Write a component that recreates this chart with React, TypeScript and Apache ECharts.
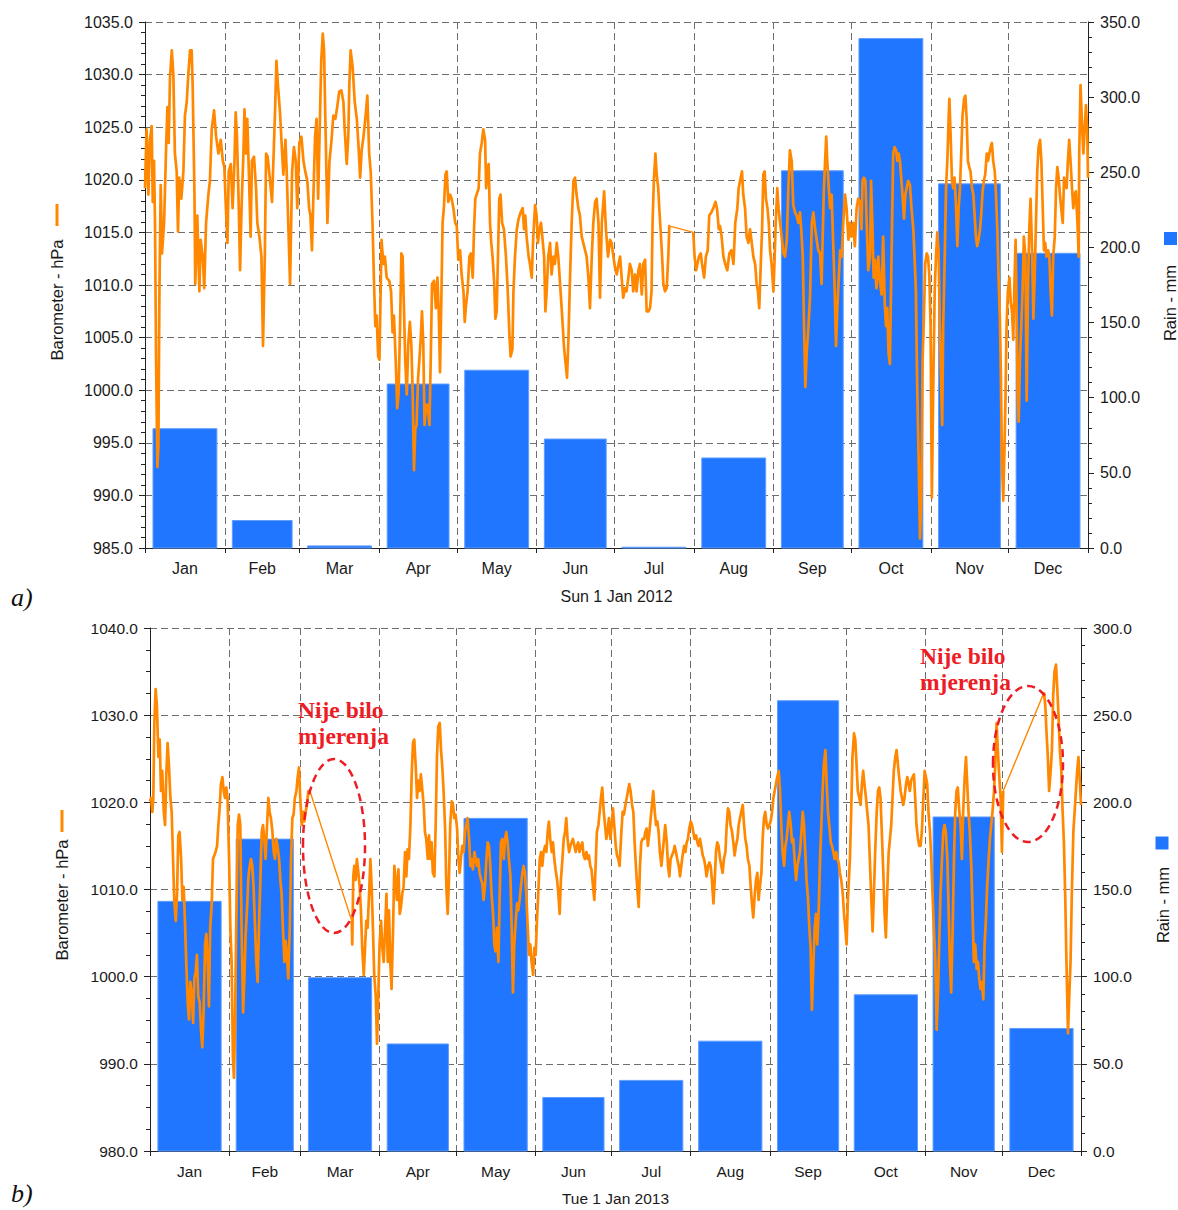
import React, { useEffect, useRef } from 'react';
import * as echarts from 'echarts';

const MONTHS = ['Jan', 'Feb', 'Mar', 'Apr', 'May', 'Jun', 'Jul', 'Aug', 'Sep', 'Oct', 'Nov', 'Dec'];
const DAYS_2012 = [31, 29, 31, 30, 31, 30, 31, 31, 30, 31, 30, 31];
const DAYS_2013 = [31, 28, 31, 30, 31, 30, 31, 31, 30, 31, 30, 31];

// Monthly rain (mm)
const RAIN_2012 = [79.4, 18.3, 1.4, 109.1, 118.3, 72.5, 0.5, 59.9, 251, 339, 242.3, 196.1];
const RAIN_2013 = [143.2, 178.9, 99.4, 61.4, 190.8, 30.7, 40.5, 63, 258.3, 89.6, 191.6, 70.3];

// Barometer (hPa) as [day of year, value]
const BARO_2012: number[][] = [
[0,1019.2],[0.6,1024.8],[1.3,1018.6],[1.9,1023.8],[2.6,1025.1],[3.0,1017.9],[3.5,1021.8],[3.9,1015.6],[4.3,1002.9],[4.8,992.7],[5.2,994.7],[5.6,1009.4],[6.1,1019.5],[6.6,1013.0],[7.4,1015.9],[8.2,1023.1],[8.7,1026.9],[9.2,1023.5],[9.7,1029.7],[10.4,1032.3],[11.0,1030.0],[11.6,1022.5],[12.3,1020.8],[12.8,1015.1],[13.3,1020.2],[14.1,1018.2],[14.9,1020.8],[15.5,1026.1],[16.2,1027.4],[16.8,1030.0],[17.5,1032.3],[18.1,1032.3],[18.5,1029.0],[19.2,1018.6],[19.5,1010.1],[20.3,1016.6],[21.1,1009.4],[21.6,1014.3],[22.4,1012.7],[23.0,1009.7],[23.7,1015.9],[24.6,1018.6],[25.2,1019.9],[25.9,1024.8],[26.8,1026.6],[27.6,1024.1],[28.5,1022.5],[29.4,1023.8],[30.2,1021.8],[30.8,1021.2],
[31.4,1017.3],[32.0,1014.0],[32.5,1020.8],[33.3,1021.5],[34.0,1017.3],[34.7,1021.5],[35.2,1026.4],[35.7,1024.1],[36.4,1017.3],[36.9,1011.4],[37.5,1017.6],[38.2,1022.5],[38.6,1026.7],[39.2,1022.5],[39.7,1025.8],[40.4,1019.9],[41.0,1014.6],[41.5,1021.8],[42.3,1022.2],[43.1,1019.2],[43.6,1015.9],[44.4,1014.6],[45.2,1012.7],[45.8,1004.2],[46.5,1012.7],[47.0,1022.5],[47.6,1022.2],[48.3,1020.5],[48.8,1019.2],[49.3,1017.9],[49.8,1021.5],[50.5,1026.7],[51.0,1031.3],[51.6,1029.0],[52.4,1026.4],[53.1,1023.1],[53.7,1020.5],[54.5,1023.8],[55.0,1020.8],[55.6,1015.9],[56.3,1010.1],[57.1,1020.8],[57.8,1023.1],[58.5,1021.8],[59.1,1017.3],[59.9,1023.5],
[60.7,1024.1],[61.5,1021.8],[62.2,1020.8],[63.0,1019.9],[63.7,1017.3],[64.2,1016.6],[64.8,1013.3],[65.3,1017.9],[66.0,1024.1],[66.6,1025.8],[67.2,1018.2],[67.9,1025.8],[68.4,1031.3],[69.0,1033.9],[69.5,1032.3],[70.0,1025.8],[70.8,1015.9],[71.6,1021.8],[72.3,1023.5],[73.1,1026.1],[73.9,1025.8],[74.7,1027.1],[75.4,1028.4],[76.2,1028.5],[77.0,1027.4],[77.5,1024.8],[78.3,1021.5],[78.9,1024.1],[79.3,1029.0],[79.8,1032.3],[80.6,1030.7],[81.4,1027.4],[82.2,1025.8],[82.9,1023.1],[83.5,1020.2],[84.1,1022.8],[84.8,1024.1],[85.5,1025.8],[86.3,1028.0],[87.0,1022.5],[87.6,1020.8],[88.3,1015.9],[88.9,1010.1],[89.4,1006.1],[89.9,1007.1],[90.5,1003.2],[91.0,1002.9],
[91.8,1014.3],[92.5,1012.0],[93.1,1012.7],[93.8,1010.7],[94.8,1010.4],[95.5,1009.4],[96.1,1005.5],[96.6,1007.1],[97.3,1002.9],[97.9,998.3],[98.4,999.6],[99.0,1006.1],[99.5,1013.0],[100.0,1012.7],[100.5,1007.8],[101.0,1002.9],[101.6,999.6],[102.2,1004.5],[102.8,1006.5],[103.4,1004.2],[103.9,999.6],[104.4,992.4],[104.9,996.3],[105.4,996.7],[106.0,1001.2],[106.5,1002.9],[107.0,1004.8],[107.5,1007.5],[108.0,1004.5],[108.5,996.7],[109.1,998.6],[109.7,998.6],[110.4,996.7],[110.9,1002.9],[111.4,1010.1],[112.2,1010.4],[112.9,1007.8],[113.5,1010.7],[114.0,1007.5],[114.5,1001.7],[115.0,1008.4],[115.5,1015.9],[116.0,1017.3],[116.6,1020.5],[117.1,1020.8],[117.7,1017.9],[118.4,1018.6],[119.0,1018.2],[119.7,1017.3],[120.4,1015.9],[121.0,1015.6],
[121.6,1012.4],[122.3,1013.3],[122.9,1011.0],[123.6,1009.4],[124.1,1006.5],[124.6,1008.1],[125.2,1009.4],[125.9,1012.7],[126.5,1013.0],[127.2,1010.7],[127.7,1015.3],[128.2,1018.2],[128.7,1018.6],[129.5,1019.2],[130.0,1022.5],[130.7,1023.5],[131.3,1024.8],[132.0,1023.8],[132.4,1019.2],[132.9,1020.8],[133.4,1021.5],[133.9,1015.9],[134.4,1014.0],[134.9,1012.7],[135.5,1010.4],[136.0,1006.8],[136.5,1007.5],[137.0,1012.7],[137.5,1018.2],[138.0,1018.6],[138.6,1015.9],[139.3,1015.3],[140.1,1012.7],[140.8,1009.4],[141.4,1005.5],[141.9,1003.2],[142.6,1003.9],[143.0,1009.4],[143.6,1012.7],[144.3,1015.3],[145.0,1016.3],[145.8,1016.9],[146.6,1017.3],[147.1,1015.3],[147.6,1016.6],[148.1,1014.6],[148.9,1012.7],[149.4,1012.0],[150.1,1010.7],[150.7,1014.6],[151.4,1017.6],[152.0,1016.6],
[152.5,1014.0],[153.1,1015.3],[153.7,1015.9],[154.2,1014.6],[154.9,1012.7],[155.4,1007.5],[155.9,1009.4],[156.5,1012.7],[157.2,1014.0],[157.8,1011.0],[158.5,1012.7],[159.1,1012.0],[159.8,1014.0],[160.4,1012.7],[161.1,1010.1],[161.9,1007.1],[162.6,1004.2],[163.1,1002.9],[163.8,1001.2],[164.3,1004.5],[165.0,1011.0],[165.6,1015.9],[166.3,1019.9],[166.9,1020.2],[167.5,1018.6],[168.2,1017.3],[168.8,1016.6],[169.5,1014.6],[170.1,1014.0],[170.8,1013.3],[171.4,1012.7],[172.1,1010.7],[172.7,1007.8],[173.4,1012.7],[174.0,1015.9],[174.7,1017.9],[175.3,1018.2],[176.0,1015.9],[176.6,1008.8],[177.3,1015.9],[178.2,1018.9],[178.9,1015.3],[179.7,1012.7],[180.5,1014.3],[181.1,1014.0],[181.8,1012.7],[182.4,1011.7],[183.1,1011.0],[183.8,1012.0],
[184.4,1012.7],[185.0,1010.7],[185.6,1008.8],[186.3,1009.7],[186.9,1009.4],[187.6,1010.7],[188.2,1012.0],[188.9,1011.4],[189.5,1009.4],[190.2,1011.0],[190.8,1009.4],[191.5,1011.4],[192.1,1012.0],[192.8,1009.1],[193.4,1012.0],[194.1,1012.4],[194.7,1007.5],[195.4,1007.5],[196.0,1007.8],[196.6,1009.4],[197.0,1015.9],[197.5,1019.9],[198.1,1022.5],[198.6,1020.5],[199.2,1019.2],[199.6,1017.3],[200.1,1015.3],[200.7,1012.7],[201.2,1010.1],[201.8,1009.4],[202.5,1009.7],[203.1,1012.7],[203.5,1015.6],[203.8,1015.6],[212.8,1015.0],[213.3,1012.7],[213.9,1011.4],[214.4,1012.0],[215.0,1012.7],[215.7,1013.0],[216.2,1012.0],[217.0,1010.7],[217.7,1012.7],[218.4,1013.3],[219.0,1016.6],[219.8,1016.9],[220.6,1017.3],[221.4,1017.9],[222.0,1017.3],[222.7,1015.3],[223.2,1015.6],[223.8,1014.6],[224.5,1012.7],[225.2,1012.0],[226.0,1011.4],[226.8,1013.0],[227.6,1013.3],[228.4,1012.0],[229.1,1015.9],[229.9,1017.3],[230.4,1019.2],[231.2,1020.2],[231.7,1020.8],[232.2,1018.6],[232.9,1017.3],[233.5,1014.6],[234.2,1014.0],[234.8,1015.3],[235.5,1014.0],[236.1,1012.7],[236.8,1012.0],[237.4,1010.1],[237.9,1009.4],[238.4,1007.8],[239.0,1012.0],[239.5,1015.3],[240.0,1020.5],[240.5,1020.8],[241.0,1018.2],[241.6,1017.3],[242.1,1015.9],[242.6,1013.3],[243.2,1012.0],[243.9,1009.4],
[244.3,1012.0],[244.8,1015.9],[245.4,1019.2],[245.9,1017.3],[246.5,1015.9],[247.1,1014.6],[247.8,1013.0],[248.4,1012.7],[249.1,1014.3],[249.7,1019.2],[250.3,1022.8],[251.0,1021.8],[251.6,1017.6],[252.3,1016.9],[252.9,1016.6],[253.6,1015.9],[254.2,1016.9],[254.7,1015.3],[255.3,1012.7],[255.8,1006.1],[256.3,1000.3],[256.8,1003.5],[257.5,1006.1],[258.1,1008.8],[258.8,1015.9],[259.4,1016.9],[260.1,1015.3],[260.7,1014.3],[261.3,1013.3],[262.0,1013.0],[262.6,1010.1],[263.0,1014.3],[263.5,1019.2],[264.1,1022.5],[264.4,1024.1],[264.8,1021.8],[265.4,1019.2],[265.9,1017.3],[266.5,1018.6],[267.2,1013.3],[267.7,1009.4],[268.2,1004.2],[268.7,1007.8],[269.2,1010.4],[269.8,1013.3],[270.4,1012.7],[271.0,1015.9],[271.7,1018.6],[272.3,1017.3],[273.0,1014.3],[273.6,1015.9],
[274.2,1014.6],[274.9,1015.9],[275.5,1013.7],[276.2,1017.3],[276.8,1018.2],[277.5,1017.9],[278.1,1015.3],[278.5,1019.9],[279.0,1020.2],[279.6,1019.9],[280.1,1015.9],[280.7,1011.4],[281.4,1012.7],[281.8,1019.9],[282.3,1015.9],[282.8,1010.7],[283.3,1012.4],[283.9,1009.7],[284.6,1012.7],[285.2,1010.4],[285.9,1009.1],[286.5,1014.6],[287.1,1008.4],[287.6,1006.1],[288.1,1007.8],[288.6,1003.5],[289.1,1002.5],[289.6,1010.4],[290.0,1016.6],[290.4,1022.5],[290.9,1023.1],[291.5,1022.8],[292.0,1021.8],[292.5,1022.5],[293.0,1021.8],[293.5,1020.2],[294.0,1018.6],[294.6,1016.3],[295.1,1018.6],[295.6,1019.2],[296.2,1019.9],[296.9,1019.5],[297.5,1017.3],[298.2,1015.3],[298.8,1012.0],[299.2,1009.4],[299.7,1000.6],[300.3,993.1],[300.8,985.9],[301.3,989.8],[301.8,1002.9],[302.3,1006.8],[302.8,1012.0],[303.4,1013.0],[303.9,1012.7],[304.4,1011.0],[304.9,1006.1],
[305.4,989.8],[305.9,999.6],[306.5,1009.4],[307.0,1012.7],[307.5,1015.0],[308.0,1013.3],[308.5,1006.1],[309.1,999.6],[309.4,996.7],[309.8,1006.1],[310.4,1012.7],[310.9,1019.2],[311.4,1021.8],[311.9,1025.8],[312.2,1027.7],[312.7,1024.1],[313.2,1019.9],[313.7,1019.2],[314.2,1020.2],[314.7,1017.9],[315.3,1013.7],[315.8,1017.3],[316.3,1019.2],[316.8,1022.5],[317.3,1026.1],[317.9,1027.7],[318.4,1028.0],[318.9,1025.8],[319.4,1021.8],[319.9,1021.2],[320.4,1020.8],[321.0,1019.2],[321.5,1018.6],[322.0,1016.6],[322.5,1014.6],[323.0,1013.7],[323.5,1014.3],[324.1,1015.3],[324.6,1016.9],[325.1,1018.9],[325.6,1019.9],[326.1,1020.5],[326.7,1022.5],[327.2,1021.8],[327.7,1022.5],[328.2,1023.1],[328.7,1023.5],[329.2,1021.8],[329.8,1020.8],[330.3,1018.6],[330.8,1015.3],[331.3,1010.7],[331.8,1006.8],[332.2,1001.2],[332.6,993.1],[333.1,989.5],[333.6,994.7],[334.0,999.6],[334.4,1006.1],[334.9,1009.4],
[335.5,1010.7],[336.0,1008.4],[336.5,1007.5],[337.0,1004.8],[337.5,1010.7],[337.9,1014.3],[338.3,1008.1],[338.7,999.6],[339.1,997.0],[339.6,1002.9],[340.1,1006.1],[340.6,1009.4],[341.1,1014.6],[341.7,1012.7],[342.2,999.0],[342.7,1009.4],[343.2,1015.3],[343.7,1018.2],[344.3,1013.3],[344.8,1006.8],[345.3,1010.7],[345.8,1015.9],[346.3,1020.8],[346.8,1023.1],[347.4,1023.8],[347.9,1021.8],[348.4,1017.6],[348.9,1013.3],[349.4,1014.0],[349.9,1012.7],[350.5,1013.3],[351.0,1012.7],[351.5,1009.4],[352.0,1007.1],[352.5,1012.7],[353.1,1014.6],[353.6,1019.2],[354.1,1021.2],[354.6,1020.2],[355.1,1018.6],[355.6,1017.3],[356.2,1015.9],[356.7,1020.2],[357.2,1019.9],[357.7,1019.2],[358.2,1021.8],[358.7,1023.8],[359.3,1021.5],[359.8,1019.2],[360.3,1017.3],[360.8,1018.6],[361.3,1018.9],[361.9,1015.9],[362.4,1012.7],[362.6,1022.5],[363.1,1029.0],[363.7,1025.1],[364.2,1022.5],[364.7,1024.8],[365.2,1027.1],[365.7,1024.8],[366,1020.2]
];

const BARO_2013: number[][] = [
[0,1020.1],[0.4,1020.5],[0.9,1018.9],[1.3,1020.5],[1.7,1029.1],[2.2,1033.0],[2.7,1031.1],[3.3,1025.2],[3.8,1027.2],[4.3,1021.3],[4.8,1023.6],[5.4,1018.9],[5.9,1017.4],[6.4,1023.2],[6.9,1026.8],[7.4,1024.4],[8.0,1020.5],[8.5,1018.9],[9.0,1013.9],[9.5,1008.8],[10.1,1006.4],[10.6,1009.5],[11.1,1016.2],[11.6,1016.6],[12.2,1013.5],[12.7,1008.8],[13.2,1010.3],[13.7,1006.4],[14.2,1001.7],[14.8,997.0],[15.3,995.1],[15.8,999.4],[16.3,998.2],[16.9,994.7],[17.4,999.8],[17.9,1000.5],[18.4,1002.5],[18.9,997.8],[19.5,997.0],[20.0,993.9],[20.5,991.9],[21.0,995.9],[21.6,1003.7],[22.1,1004.9],[22.6,1001.7],[23.1,996.6],[23.6,1005.6],[24.2,1008.4],[24.7,1013.5],[25.2,1013.9],[25.7,1014.3],[26.3,1015.0],[26.8,1017.4],[27.3,1019.3],[27.8,1022.1],[28.4,1022.9],[28.9,1021.3],[29.4,1020.5],[29.9,1021.7],[30.4,1020.5],
[31.0,1013.5],[31.5,1005.6],[32.0,1001.7],[32.5,990.8],[32.9,988.4],[33.3,993.9],[33.8,1005.6],[34.4,1017.4],[34.9,1018.6],[35.4,1017.4],[35.9,1005.6],[36.5,995.9],[37.0,999.8],[37.5,1004.9],[38.0,1007.6],[38.6,1011.5],[39.1,1012.7],[39.6,1013.5],[40.1,1012.7],[40.6,1010.3],[41.2,1005.6],[41.7,1001.7],[42.2,999.4],[42.7,1005.6],[43.3,1011.5],[43.8,1016.6],[44.3,1017.4],[44.8,1015.8],[45.3,1013.5],[45.9,1017.4],[46.4,1020.5],[46.9,1018.9],[47.4,1018.2],[48.0,1016.6],[48.5,1014.3],[49.0,1013.5],[49.5,1015.8],[50.0,1015.0],[50.6,1013.5],[51.1,1011.1],[51.6,1009.5],[52.1,1005.6],[52.7,1001.7],[53.2,1004.1],[53.7,1002.5],[54.2,999.8],[54.8,1005.6],[55.3,1013.5],[55.8,1018.2],[56.3,1018.6],[56.8,1020.5],[57.4,1021.3],[57.9,1022.9],[58.4,1024.0],[58.9,1020.5],[59.5,1017.4],[60.0,1018.9],[60.5,1017.8],[61.0,1018.9],[61.5,1019.7],[62.1,1021.3],[62.7,1021.3],
[79.1,1006.4],[79.3,1003.7],[79.7,1011.5],[80.1,1012.7],[80.6,1011.1],[81.1,1013.5],[81.7,1011.9],[82.2,1010.3],[82.7,1007.6],[83.2,1003.3],[83.8,1000.2],[84.3,1003.3],[84.8,1006.4],[85.3,1005.6],[85.9,1009.5],[86.4,1013.5],[86.9,1010.3],[87.4,1005.6],[87.9,1000.2],[88.5,997.8],[89.0,992.3],[89.5,997.8],[90.0,1003.7],[90.6,1006.4],[91.1,1003.3],[91.6,1001.7],
[92.1,1004.9],[92.7,1009.5],[93.2,1001.7],[93.7,1007.6],[94.2,1001.7],[94.7,998.6],[95.3,1005.6],[95.8,1012.7],[96.3,1011.1],[96.8,1008.8],[97.4,1012.3],[97.9,1007.2],[98.4,1008.0],[98.9,1009.5],[99.4,1010.3],[100.0,1014.3],[100.5,1011.5],[101.0,1014.6],[101.5,1013.5],[102.1,1017.4],[102.6,1023.2],[103.1,1026.8],[103.6,1027.2],[104.2,1024.0],[104.7,1020.5],[105.2,1022.5],[105.7,1021.3],[106.2,1023.2],[106.8,1021.3],[107.3,1019.7],[107.8,1016.6],[108.3,1015.8],[108.9,1013.5],[109.4,1016.2],[109.9,1013.5],[110.4,1015.4],[110.9,1011.9],[111.5,1011.5],[112.0,1017.4],[112.5,1025.2],[113.0,1028.7],[113.6,1029.1],[114.1,1026.0],[114.6,1024.0],[115.1,1021.3],[115.7,1017.0],[116.2,1010.3],[116.7,1007.2],[117.2,1011.1],[117.7,1017.4],[118.3,1020.1],[118.8,1019.7],[119.3,1018.2],[119.8,1018.6],[120.4,1017.0],
[120.9,1013.5],[121.4,1011.9],[121.9,1013.5],[122.4,1015.0],[123.0,1014.3],[123.5,1016.6],[124.0,1017.4],[124.5,1018.2],[125.1,1015.8],[125.6,1012.7],[126.1,1013.5],[126.6,1012.3],[127.2,1014.3],[127.7,1013.5],[128.2,1012.7],[128.7,1013.5],[129.2,1011.9],[129.8,1011.1],[130.3,1010.7],[130.8,1008.8],[131.3,1010.3],[131.9,1013.5],[132.4,1015.4],[132.9,1015.0],[133.4,1012.7],[133.9,1009.5],[134.5,1007.2],[135.0,1003.7],[135.5,1002.9],[136.0,1005.6],[136.6,1001.7],[137.1,1009.5],[137.6,1015.4],[138.1,1015.8],[138.7,1013.5],[139.2,1015.8],[139.7,1016.6],[140.2,1015.4],[140.7,1013.5],[141.3,1011.5],[141.8,1005.6],[142.3,998.2],[142.8,1003.7],[143.4,1006.4],[143.9,1008.4],[144.4,1007.6],[144.9,1008.8],[145.4,1010.3],[146.0,1011.9],[146.5,1012.7],[147.0,1011.9],[147.5,1009.5],[148.1,1005.6],[148.6,1002.5],[149.1,1003.7],[149.6,1001.7],[150.2,1000.2],[150.7,1003.3],[151.2,1002.5],
[151.7,1006.4],[152.2,1009.5],[152.8,1013.5],[153.3,1014.3],[153.8,1012.7],[154.3,1014.3],[154.9,1015.0],[155.4,1014.3],[155.9,1016.6],[156.4,1017.8],[156.9,1015.8],[157.5,1014.3],[158.0,1015.4],[158.5,1013.5],[159.0,1012.3],[159.6,1011.1],[160.1,1009.5],[160.6,1007.2],[161.1,1011.1],[161.7,1013.5],[162.2,1015.8],[162.7,1016.6],[163.2,1018.2],[163.7,1015.8],[164.3,1014.3],[164.8,1015.0],[165.3,1015.4],[165.8,1015.8],[166.4,1015.0],[166.9,1014.3],[167.4,1015.0],[167.9,1015.4],[168.4,1014.3],[169.0,1015.0],[169.5,1015.4],[170.0,1013.9],[170.5,1013.5],[171.1,1014.3],[171.6,1013.5],[172.1,1013.9],[172.6,1012.7],[173.1,1012.3],[173.7,1010.3],[174.2,1008.8],[174.7,1012.7],[175.2,1016.6],[175.8,1017.4],[176.3,1018.9],[176.8,1020.5],[177.3,1021.7],[177.9,1018.9],[178.4,1017.4],[178.9,1015.8],[179.4,1016.6],[179.9,1018.2],[180.5,1015.8],[181.0,1017.4],[181.5,1019.3],[182.0,1017.4],[182.6,1015.0],[183.1,1013.9],[183.6,1013.5],[184.1,1012.7],
[184.8,1016.6],[185.3,1018.9],[185.8,1018.6],[186.4,1019.7],[186.9,1020.5],[187.4,1021.3],[187.9,1022.1],[188.4,1021.3],[189.0,1019.7],[189.5,1018.9],[190.0,1015.4],[190.5,1012.7],[191.1,1009.9],[191.6,1008.0],[192.1,1012.7],[192.6,1015.4],[193.1,1015.8],[193.7,1015.8],[194.2,1016.6],[194.7,1017.0],[195.2,1015.0],[195.8,1016.6],[196.3,1018.2],[196.8,1019.7],[197.3,1021.3],[197.9,1018.9],[198.4,1017.4],[198.9,1017.8],[199.4,1016.6],[199.9,1014.3],[200.5,1012.7],[201.0,1014.3],[201.5,1015.8],[202.0,1017.4],[202.6,1015.4],[203.1,1012.7],[203.6,1011.5],[204.1,1013.5],[204.6,1013.9],[205.2,1014.3],[205.7,1015.0],[206.2,1014.3],[206.7,1013.5],[207.3,1012.7],[207.8,1011.5],[208.3,1012.7],[208.8,1013.9],[209.4,1015.0],[209.9,1014.3],[210.4,1015.4],[210.9,1015.8],[211.4,1017.0],[212.0,1017.8],[212.5,1017.4],[213.0,1016.6],[213.5,1015.8],[214.1,1016.2],[214.6,1015.4],[215.1,1015.0],[215.6,1015.8],[216.1,1015.0],[216.7,1013.9],[217.2,1013.5],[217.7,1012.7],[218.2,1011.5],[218.8,1012.7],[219.3,1013.1],[219.8,1012.7],[220.3,1011.1],[220.9,1008.4],[221.4,1011.1],[221.9,1014.3],[222.4,1015.4],[222.9,1015.0],[223.5,1013.5],[224.0,1012.7],[224.5,1011.9],[225.0,1013.5],[225.6,1014.3],[226.1,1017.4],[226.6,1019.3],[227.1,1018.9],[227.6,1017.4],[228.2,1016.6],[228.7,1015.4],[229.2,1013.9],[229.7,1015.0],[230.3,1015.8],[230.8,1017.4],[231.3,1018.2],[231.8,1018.9],[232.4,1019.7],[232.9,1017.4],[233.4,1015.8],[233.9,1015.0],[234.4,1013.5],[235.0,1012.7],[235.5,1010.3],[236.0,1008.4],[236.5,1006.8],[237.1,1009.5],[237.6,1011.1],[238.1,1011.9],[238.6,1008.8],[239.1,1010.3],[239.7,1011.9],[240.2,1015.8],[240.7,1018.2],[241.2,1018.9],[241.8,1017.4],[242.3,1017.0],[242.8,1017.4],[243.3,1017.8],[243.9,1018.9],
[244.4,1020.5],[244.9,1021.3],[245.4,1022.1],[245.9,1022.9],[246.5,1023.6],[247.0,1021.3],[247.5,1017.4],[248.0,1014.3],[248.6,1012.7],[249.1,1015.0],[249.6,1015.8],[250.1,1017.4],[250.6,1018.9],[251.2,1017.4],[251.7,1015.4],[252.2,1015.8],[252.7,1013.5],[253.3,1011.1],[253.8,1012.7],[254.3,1013.5],[254.8,1014.3],[255.4,1016.6],[255.9,1018.9],[256.4,1017.4],[256.9,1014.3],[257.4,1011.1],[258.0,1008.8],[258.5,1005.6],[259.0,1003.3],[259.5,996.2],[260.1,1001.7],[260.6,1005.6],[261.1,1007.2],[261.6,1003.7],[262.2,1008.0],[262.7,1013.5],[263.2,1017.4],[263.7,1021.3],[264.2,1024.4],[264.8,1026.0],[265.3,1022.1],[265.8,1018.9],[266.3,1017.4],[266.9,1015.4],[267.4,1015.0],[267.9,1014.3],[268.4,1013.5],[269.0,1014.3],[269.5,1013.5],[270.0,1013.1],[270.5,1011.9],[271.0,1011.1],[271.6,1009.5],[272.1,1007.2],[272.6,1005.6],[273.1,1003.7],[273.6,1008.8],
[274.4,1013.5],[274.9,1018.9],[275.4,1025.2],[276.0,1027.9],[276.5,1027.2],[277.0,1024.4],[277.5,1021.3],[278.1,1020.5],[278.6,1019.7],[279.1,1022.1],[279.6,1023.6],[280.1,1022.1],[280.7,1020.5],[281.2,1018.9],[281.7,1017.4],[282.2,1013.5],[282.8,1008.8],[283.3,1005.2],[283.8,1009.5],[284.3,1014.3],[284.9,1018.9],[285.4,1021.3],[285.9,1021.7],[286.4,1020.5],[286.9,1016.6],[287.5,1011.9],[288.0,1007.2],[288.5,1004.5],[289.0,1009.5],[289.6,1014.3],[290.1,1015.8],[290.6,1017.4],[291.1,1020.5],[291.6,1023.6],[292.2,1025.2],[292.7,1026.0],[293.2,1024.4],[293.7,1022.9],[294.3,1021.3],[294.8,1020.5],[295.3,1019.7],[295.8,1020.5],[296.4,1022.1],[296.9,1022.9],[297.4,1022.1],[297.9,1021.3],[298.4,1022.5],[299.0,1022.9],[299.5,1023.2],[300.0,1020.5],[300.5,1017.4],[301.1,1015.8],[301.6,1015.0],[302.1,1015.0],[302.6,1016.6],[303.2,1020.5],[303.7,1023.6],[304.2,1022.9],[304.7,1022.1],[305.2,1018.9],[305.8,1016.6],[306.3,1013.5],[306.8,1009.5],[307.3,1005.6],[307.9,1001.7],[308.4,993.9],[308.9,997.8],[309.4,1003.7],[309.9,1009.5],[310.5,1013.5],[311.0,1016.6],[311.5,1017.4],[312.0,1016.6],[312.6,1013.5],[313.1,1007.6],[313.6,1001.7],[314.1,998.2],[314.7,1005.6],[315.2,1013.5],[315.7,1018.9],[316.2,1021.3],[316.7,1021.7],[317.3,1018.9],[317.8,1017.4],[318.3,1013.5],[318.8,1018.9],[319.4,1022.9],[319.9,1025.2],[320.4,1022.1],[320.9,1018.9],[321.4,1016.6],[322.0,1012.7],[322.5,1007.2],[323.0,1001.7],[323.5,1003.7],[324.1,1000.9],[324.6,1001.7],[325.1,999.8],[325.6,998.6],[326.1,999.4],[326.7,997.4],[327.2,1003.7],[327.7,1006.4],[328.2,1010.3],[328.8,1013.5],[329.3,1015.8],[329.8,1017.4],[330.3,1018.9],[330.9,1021.3],[331.4,1024.4],[331.9,1029.1],[332.4,1026.0],[332.9,1023.2],[333.5,1020.5],[334.0,1014.3],[334.5,1021.3],
[350.5,1032.6],[351.0,1031.1],[351.5,1027.9],[352.0,1025.2],[352.5,1021.3],[353.1,1023.6],[353.6,1026.0],[354.1,1032.2],[354.6,1035.0],[355.2,1035.8],[355.7,1033.0],[356.2,1029.9],[356.7,1026.0],[357.3,1023.6],[357.8,1018.9],[358.3,1015.4],[358.8,1009.5],[359.3,1001.7],[359.9,993.5],[360.4,997.8],[360.9,1001.7],[361.4,1009.5],[362.0,1016.6],[362.5,1018.9],[363.0,1021.3],[363.5,1023.6],[364.0,1025.2],[364.6,1022.1],[365,1019.7]
];

const GAP_DAYS = 3; // readings further apart than this were not measured in between

const FONT = "'Liberation Sans', Arial, Helvetica, sans-serif";
const SERIF = "'Liberation Serif', 'Times New Roman', Times, serif";
const TEXT = '#1a1a1a';
const AXIS = '#222222';
const GRID = '#6e6e6e';
const ORANGE = '#ff8800';
const BAR = '#2176ff';
const BAR_EDGE = '#5f9dff';
const RED = '#ee1c24';

function cumulative(days: number[]) {
  const b = [0];
  days.forEach((d) => b.push(b[b.length - 1] + d));
  return b;
}

// Split into measured runs (null breaks) and the straight connectors across missing periods
function splitGaps(data: number[][]) {
  const main: any[] = [];
  const connectors: any[] = [];
  data.forEach((p, i) => {
    if (i > 0 && p[0] - data[i - 1][0] > GAP_DAYS) {
      main.push([null, null]);
      connectors.push(data[i - 1], p, [null, null]);
    }
    main.push(p);
  });
  return { main, connectors };
}

function makeXAxis(gridIndex: number, days: number[], name: string, fontSize: number, nameGap: number) {
  const bounds = cumulative(days);
  const centers = days.map((d, i) => bounds[i] + d / 2);
  return {
    type: 'value',
    gridIndex,
    min: 0,
    max: bounds[bounds.length - 1],
    name,
    nameLocation: 'middle',
    nameGap,
    nameTextStyle: { fontSize, color: TEXT, fontFamily: FONT },
    axisLine: { show: true, onZero: false, lineStyle: { color: AXIS, width: 1 } },
    axisTick: { show: true, customValues: bounds, length: 5, lineStyle: { color: AXIS } },
    axisLabel: {
      show: true,
      customValues: centers,
      margin: 12,
      fontSize,
      color: TEXT,
      fontFamily: FONT,
      formatter: (v: number) => {
        const i = centers.findIndex((c) => Math.abs(c - v) < 1e-6);
        return i >= 0 ? MONTHS[i] : '';
      },
    },
    splitLine: { show: true, lineStyle: { color: GRID, type: [7, 4], width: 1 } },
  };
}

function makeYAxis(
  gridIndex: number,
  position: string,
  min: number,
  max: number,
  interval: number,
  minorSplit: number,
  fontSize: number,
  showSplit: boolean
) {
  return {
    type: 'value',
    gridIndex,
    position,
    min,
    max,
    interval,
    axisLine: { show: true, onZero: false, lineStyle: { color: AXIS, width: 1 } },
    axisTick: { show: true, length: 6, lineStyle: { color: AXIS } },
    minorTick: { show: true, splitNumber: minorSplit, length: 4, lineStyle: { color: AXIS } },
    axisLabel: {
      margin: 12,
      fontSize,
      color: TEXT,
      fontFamily: FONT,
      formatter: (v: number) => v.toFixed(1),
    },
    splitLine: { show: showSplit, lineStyle: { color: GRID, type: [7, 4], width: 1 } },
    minorSplitLine: { show: false },
  };
}

function barSeries(xAxisIndex: number, yAxisIndex: number, days: number[], rain: number[]) {
  const bounds = cumulative(days);
  return {
    type: 'custom',
    xAxisIndex,
    yAxisIndex,
    data: rain.map((v, i) => [bounds[i], bounds[i + 1], v]),
    encode: { x: [0, 1], y: 2 },
    z: 1,
    renderItem: (_params: any, api: any) => {
      const s = api.value(0);
      const e = api.value(1);
      const v = api.value(2);
      const inset = (e - s) * 0.1;
      const tl = api.coord([s + inset, v]);
      const br = api.coord([e - inset, 0]);
      return {
        type: 'rect',
        shape: { x: tl[0], y: tl[1], width: br[0] - tl[0], height: br[1] - tl[1] },
        style: { fill: BAR, stroke: BAR_EDGE, lineWidth: 1 },
      };
    },
  };
}

function lineSeries(xAxisIndex: number, yAxisIndex: number, data: any[], width: number) {
  return {
    type: 'line',
    xAxisIndex,
    yAxisIndex,
    data,
    symbol: 'none',
    showSymbol: false,
    connectNulls: false,
    z: 3,
    lineStyle: { color: ORANGE, width, join: 'round' },
  };
}

function vText(x: number, y: number, text: string, fontSize: number) {
  return {
    type: 'text',
    x,
    y,
    rotation: Math.PI / 2,
    z: 100,
    style: { text, fontSize, fontFamily: FONT, fill: TEXT, align: 'center', verticalAlign: 'middle' },
  };
}

export default function App() {
  const ref = useRef<HTMLDivElement>(null);

  useEffect(() => {
    if (!ref.current) return;
    const chart = echarts.init(ref.current, null, { renderer: 'svg' });
    const a = splitGaps(BARO_2012);
    const b = splitGaps(BARO_2013);
    const option: any = {
      animation: false,
      backgroundColor: '#ffffff',
      grid: [
        { left: 145, top: 22, width: 943, height: 526, containLabel: false },
        { left: 150, top: 628, width: 931, height: 523, containLabel: false },
      ],
      xAxis: [
        makeXAxis(0, DAYS_2012, 'Sun 1 Jan 2012', 16, 40),
        makeXAxis(1, DAYS_2013, 'Tue 1 Jan 2013', 15.5, 39),
      ],
      yAxis: [
        makeYAxis(0, 'left', 985, 1035, 5, 5, 16, true),
        makeYAxis(0, 'right', 0, 350, 50, 5, 16, false),
        makeYAxis(1, 'left', 980, 1040, 10, 4, 15.5, true),
        makeYAxis(1, 'right', 0, 300, 50, 5, 15.5, false),
      ],
      series: [
        barSeries(0, 1, DAYS_2012, RAIN_2012),
        lineSeries(0, 0, a.main, 2.7),
        lineSeries(0, 0, a.connectors, 1.4),
        barSeries(1, 3, DAYS_2013, RAIN_2013),
        lineSeries(1, 2, b.main, 2.7),
        lineSeries(1, 2, b.connectors, 1.4),
      ],
      graphic: [
        // panel a legends / axis names
        { type: 'rect', z: 100, shape: { x: 55.5, y: 204, width: 3, height: 22 }, style: { fill: ORANGE } },
        vText(57, 300, 'Barometer - hPa', 16.5),
        { type: 'rect', z: 100, shape: { x: 1164, y: 232, width: 13, height: 13 }, style: { fill: BAR } },
        vText(1170, 303, 'Rain - mm', 16.5),
        // panel b legends / axis names
        { type: 'rect', z: 100, shape: { x: 60.5, y: 810, width: 3, height: 22 }, style: { fill: ORANGE } },
        vText(62, 900, 'Barometer - hPa', 16.5),
        { type: 'rect', z: 100, shape: { x: 1155.5, y: 836.5, width: 13, height: 13 }, style: { fill: BAR } },
        vText(1163, 905, 'Rain - mm', 16.5),
        // panel labels
        {
          type: 'text', x: 11, y: 597, z: 100,
          style: { text: 'a)', fontSize: 26, fontStyle: 'italic', fontFamily: SERIF, fill: '#111', verticalAlign: 'middle' },
        },
        {
          type: 'text', x: 11, y: 1193, z: 100,
          style: { text: 'b)', fontSize: 26, fontStyle: 'italic', fontFamily: SERIF, fill: '#111', verticalAlign: 'middle' },
        },
        // annotations
        {
          type: 'text', x: 298, y: 697, z: 110,
          style: {
            text: 'Nije bilo\nmjerenja', fontSize: 23.5, fontWeight: 'bold', fontFamily: SERIF,
            fill: RED, lineHeight: 26, verticalAlign: 'top', align: 'left',
          },
        },
        {
          type: 'ellipse', z: 110,
          shape: { cx: 334, cy: 846, rx: 31, ry: 87 },
          style: { fill: 'none', stroke: RED, lineWidth: 2.5, lineDash: [8, 5] },
        },
        {
          type: 'text', x: 920, y: 643, z: 110,
          style: {
            text: 'Nije bilo\nmjerenja', fontSize: 23.5, fontWeight: 'bold', fontFamily: SERIF,
            fill: RED, lineHeight: 26, verticalAlign: 'top', align: 'left',
          },
        },
        {
          type: 'ellipse', z: 110,
          shape: { cx: 1028, cy: 764, rx: 35, ry: 78 },
          style: { fill: 'none', stroke: RED, lineWidth: 2.5, lineDash: [8, 5] },
        },
      ],
    };
    chart.setOption(option);
    return () => chart.dispose();
  }, []);

  return (
    <div
      ref={ref}
      style={{ position: 'absolute', left: 0, top: 0, width: 1178, height: 1210, background: '#fff' }}
    />
  );
}
